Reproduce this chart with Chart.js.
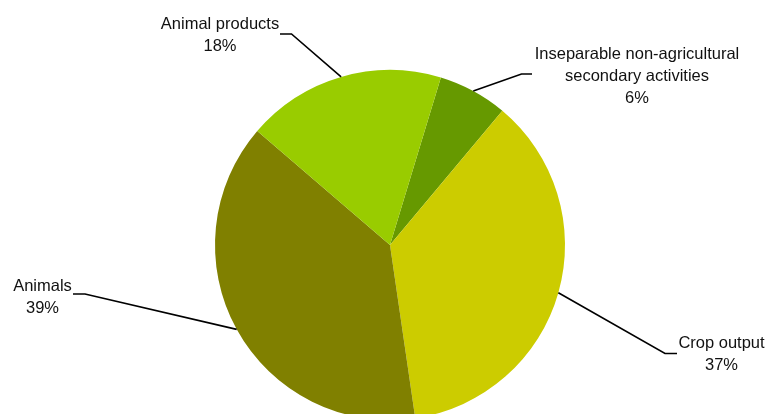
<!DOCTYPE html>
<html>
<head>
<meta charset="utf-8">
<script src="https://cdn.jsdelivr.net/npm/chart.js@4"></script>
<style>
  html, body { margin: 0; padding: 0; background: #ffffff; overflow: hidden; }
  #wrap { position: relative; width: 768px; height: 440px; }
</style>
</head>
<body>
<div id="wrap"><canvas id="c"></canvas></div>
<script>
// Data (clockwise from the start angle)
const categories = ["Inseparable non-agricultural secondary activities", "Crop output", "Animals", "Animal products"];
const labelLines = [["Inseparable non-agricultural", "secondary activities"], ["Crop output"], ["Animals"], ["Animal products"]];
const shares = [6.4, 36.6, 38.6, 18.4];
const colors = ["#669900", "#cccc00", "#808000", "#99cc00"];

// Label layout (annotation positions, not data)
const labelLayout = [
  { elbow: [521.5, 74], end: [532, 74], tx: 637, ty: 54 },
  { elbow: [665, 353.5], end: [677, 353.5], tx: 721.5, ty: 343 },
  { elbow: [85, 294], end: [73, 294], tx: 42.5, ty: 286 },
  { elbow: [291.5, 34], end: [280, 34], tx: 220, ty: 24 }
];

const leaderPlugin = {
  id: 'leaders',
  afterDatasetsDraw(chart) {
    const ctx = chart.ctx;
    const meta = chart.getDatasetMeta(0);
    ctx.save();
    ctx.strokeStyle = '#000000';
    ctx.lineWidth = 1.6;
    ctx.fillStyle = '#111111';
    ctx.font = '16.5px "Liberation Sans", Arial, sans-serif';
    ctx.textAlign = 'center';
    ctx.textBaseline = 'middle';
    meta.data.forEach((arc, i) => {
      const p = arc.getProps(['x', 'y', 'startAngle', 'endAngle', 'outerRadius'], true);
      const mid = (p.startAngle + p.endAngle) / 2;
      const ax = p.x + Math.cos(mid) * p.outerRadius;
      const ay = p.y + Math.sin(mid) * p.outerRadius;
      const L = labelLayout[i];
      ctx.beginPath();
      ctx.moveTo(ax, ay);
      ctx.lineTo(L.elbow[0], L.elbow[1]);
      ctx.lineTo(L.end[0], L.end[1]);
      ctx.stroke();
      const lines = labelLines[i].concat([Math.round(shares[i]) + '%']);
      lines.forEach((t, k) => {
        ctx.fillText(t, L.tx, L.ty + k * 22);
      });
    });
    ctx.restore();
  }
};

new Chart(document.getElementById('c'), {
  type: 'pie',
  data: {
    labels: categories,
    datasets: [{
      data: shares,
      backgroundColor: colors,
      borderWidth: 0
    }]
  },
  options: {
    responsive: true,
    maintainAspectRatio: false,
    animation: false,
    rotation: 16.9,
    layout: { padding: { top: 70, bottom: 20, left: 12, right: 0 } },
    plugins: {
      legend: { display: false },
      tooltip: { enabled: false }
    }
  },
  plugins: [leaderPlugin]
});
</script>
</body>
</html>
